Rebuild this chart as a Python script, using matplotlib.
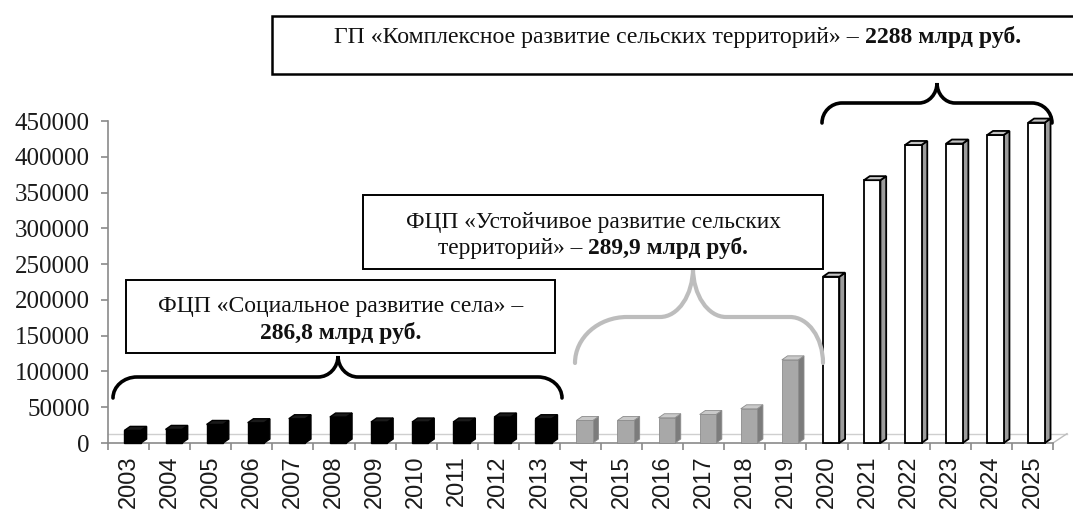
import matplotlib
matplotlib.use("Agg")
import matplotlib.pyplot as plt
from matplotlib.patches import Polygon, Rectangle, PathPatch
from matplotlib.path import Path
import numpy as np

# ---------------- data ----------------
years = [str(y) for y in range(2003, 2026)]
values_social = [17600, 18950, 25900, 28300, 33900, 36250, 29300, 29300, 29300, 36250, 33900]  # 2003-2013
values_sustain = [31500, 31500, 35300, 39900, 47800, 116200]                                    # 2014-2019
values_complex = [232400, 367300, 416500, 418500, 430500, 447800]                               # 2020-2025
yticks = [0, 50000, 100000, 150000, 200000, 250000, 300000, 350000, 400000, 450000]

label_social = [("ФЦП «Социальное развитие села» –", "normal")], [("286,8 млрд руб.", "bold")]
label_sustain = [("ФЦП «Устойчивое развитие сельских", "normal")], [("территорий» –", "normal"), ("289,9 млрд руб.", "bold")]
label_complex = [("ГП «Комплексное развитие сельских территорий» –", "normal"), ("2288 млрд руб.", "bold")]

# ---------------- figure ----------------
W, H = 1073, 518
fig = plt.figure(figsize=(W / 100, H / 100), dpi=100)
fig.patch.set_facecolor("white")


def fx(px):
    return px / W


def fy(py):
    return 1 - py / H


ax = fig.add_axes([fx(108), fy(443), 945 / W, 322 / H])
n = len(years)
xs = np.arange(n)
ax.set_xlim(-0.5, n - 0.5)
ax.set_ylim(0, 450000)

axis_col = "#8a8a8a"
for s in ["top", "right"]:
    ax.spines[s].set_visible(False)
for s in ["left", "bottom"]:
    ax.spines[s].set_color(axis_col)
    ax.spines[s].set_linewidth(1.2)

# floor (3-D look)
floor_y = 13000
floor_dx = 0.34
ax.plot([-0.5, n - 0.5 + floor_dx], [floor_y, floor_y], color="#cfcfcf", lw=1.0, zorder=1, clip_on=False)
ax.plot([n - 0.5, n - 0.5 + floor_dx], [0, floor_y], color="#bdbdbd", lw=1.0, zorder=1, clip_on=False)

# bars
off, bw, ddx, ddy = -0.10, 0.40, 0.14, 5600
groups = [
    (xs[:11], values_social, dict(front="black", side="black", top="#1a1a1a", edge="black", lw=1.0)),
    (xs[11:17], values_sustain, dict(front="#a8a8a8", side="#7c7c7c", top="#c9c9c9", edge="#8c8c8c", lw=0.6)),
    (xs[17:], values_complex, dict(front="white", side="#9c9c9c", top="#c4c4c4", edge="black", lw=1.3)),
]
for gx, vals, st in groups:
    ax.bar(gx + off, vals, width=bw, align="edge", color=st["front"],
           edgecolor=st["edge"], linewidth=st["lw"], zorder=3, clip_on=False)
    for xi, v in zip(gx, vals):
        x0 = xi + off
        side = [(x0 + bw, 0), (x0 + bw + ddx, ddy), (x0 + bw + ddx, v + ddy), (x0 + bw, v)]
        top = [(x0, v), (x0 + ddx, v + ddy), (x0 + bw + ddx, v + ddy), (x0 + bw, v)]
        ax.add_patch(Polygon(side, closed=True, facecolor=st["side"], edgecolor=st["edge"],
                             linewidth=st["lw"], zorder=2.9, clip_on=False))
        ax.add_patch(Polygon(top, closed=True, facecolor=st["top"], edgecolor=st["edge"],
                             linewidth=st["lw"], zorder=3.1, clip_on=False))

# ticks
ax.set_yticks(yticks)
ax.set_yticklabels([str(v) for v in yticks], fontfamily="Liberation Serif", fontsize=18, color="#1a1a1a")
ax.tick_params(axis="y", direction="out", length=5, width=1.2, color=axis_col, pad=8)

ax.set_xticks(xs)
ax.set_xticklabels(years, rotation=90, fontfamily="Liberation Sans", fontsize=17, color="#1a1a1a")
ax.tick_params(axis="x", which="major", length=0, pad=9)
ax.set_xticks(np.arange(-0.5, n, 1.0), minor=True)
ax.tick_params(axis="x", which="minor", direction="out", length=5, width=1.2, color=axis_col)

# ---------------- annotation boxes ----------------
def box(x0, y0, x1, y1, lw=1.4):
    fig.add_artist(Rectangle((fx(x0), fy(y1)), (x1 - x0) / W, (y1 - y0) / H,
                             transform=fig.transFigure, facecolor="white",
                             edgecolor="black", linewidth=lw, zorder=5, clip_on=False))


renderer = fig.canvas.get_renderer()


def measure(segs, size):
    tot = 0
    for s, w in segs:
        t = fig.text(0, 0, s, fontsize=size, fontweight=w, family="Liberation Serif")
        tot += t.get_window_extent(renderer).width
        t.remove()
    space = 0.25 * size * 100 / 72
    return tot + space * (len(segs) - 1)


def fit_size(segs, target):
    return 10 * target / measure(segs, 10)


def draw_line(segs, cx, base_y, size):
    space = 0.25 * size * 100 / 72
    texts = []
    for s, w in segs:
        t = fig.text(0, fy(base_y), s, fontsize=size, fontweight=w, family="Liberation Serif",
                     va="baseline", ha="left", color="#111111", zorder=6)
        texts.append(t)
    widths = [t.get_window_extent(renderer).width for t in texts]
    total = sum(widths) + space * (len(texts) - 1)
    xc = cx - total / 2
    for t, wdt in zip(texts, widths):
        t.set_x(fx(xc))
        xc += wdt + space


# top box
box(272, 16, 1085, 74, lw=1.8)
sz_top = fit_size(label_complex, 691)
draw_line(label_complex, (332 + 1023) / 2, 43, sz_top)

# box 2
box(363, 195, 823, 269)
sz2 = fit_size(label_sustain[0], 375)
draw_line(label_sustain[0], 593, 228, sz2)
draw_line(label_sustain[1], 593, 254, sz2)

# box 3
box(126, 280, 555, 353)
sz3 = fit_size(label_social[0], 367)
draw_line(label_social[0], 341, 312, sz3)
draw_line(label_social[1], 341, 339, sz3)

# ---------------- braces ----------------
def brace(x0, x1, xm, y_end, y_line, y_peak, rxl, rxr, rxp, color, lw):
    k = 0.55
    pts = [
        (x0, y_end),
        (x0, y_end - k * (y_end - y_line)), (x0 + rxl * (1 - k), y_line), (x0 + rxl, y_line),
        (xm - rxp, y_line),
        (xm - 0.45 * rxp, y_line), (xm, y_line - 0.45 * (y_line - y_peak)), (xm, y_peak),
        (xm, y_line - 0.45 * (y_line - y_peak)), (xm + 0.45 * rxp, y_line), (xm + rxp, y_line),
        (x1 - rxr, y_line),
        (x1 - rxr * (1 - k), y_line), (x1, y_end - k * (y_end - y_line)), (x1, y_end),
    ]
    codes = [Path.MOVETO,
             Path.CURVE4, Path.CURVE4, Path.CURVE4,
             Path.LINETO,
             Path.CURVE4, Path.CURVE4, Path.CURVE4,
             Path.CURVE4, Path.CURVE4, Path.CURVE4,
             Path.LINETO,
             Path.CURVE4, Path.CURVE4, Path.CURVE4]
    p = Path([(fx(a), fy(b)) for a, b in pts], codes)
    fig.add_artist(PathPatch(p, transform=fig.transFigure, facecolor="none",
                             edgecolor=color, linewidth=lw, capstyle="round", zorder=4))


brace(113, 562, 338, 398, 377, 356, 24, 24, 20, "black", 2.6)
brace(575, 823, 693, 363, 317, 268, 52, 33, 33, "#bdbdbd", 3.0)
brace(822, 1052, 937, 123, 103, 83, 20, 20, 18, "black", 2.6)

fig.savefig("out.png", dpi=100, facecolor="white")
